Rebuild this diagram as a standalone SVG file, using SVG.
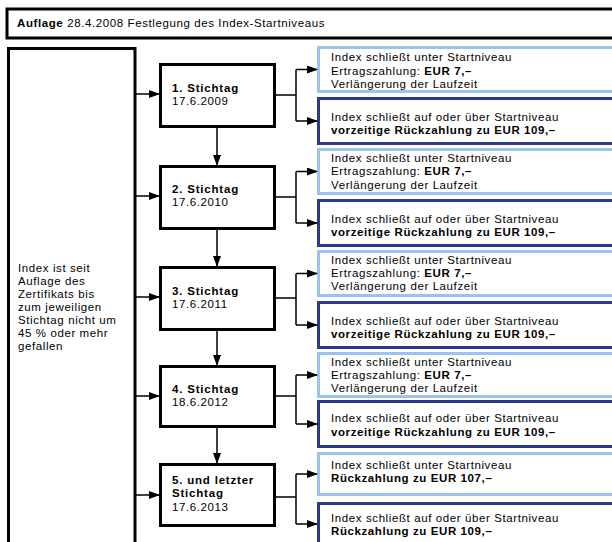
<svg xmlns="http://www.w3.org/2000/svg" width="612" height="542" viewBox="0 0 612 542">
<defs>
<marker id="ah" markerWidth="11" markerHeight="8" refX="10" refY="4" orient="auto" markerUnits="userSpaceOnUse">
<path d="M0,0 L11,4 L0,8 Z" fill="#000"/>
</marker>
<style>
text{font-family:"Liberation Sans",Arial,sans-serif;font-size:11.5px;letter-spacing:0.6px;fill:#000}
.b{font-weight:bold}
.s{letter-spacing:0.8px}
.box{fill:#fff;stroke:#000;stroke-width:3}
.lt{fill:#fff;stroke:#9cc3ee;stroke-width:3}
.dk{fill:#fff;stroke:#2d3a8c;stroke-width:3}
.c{fill:none;stroke:#000;stroke-width:1.5}
</style>
</defs>
<rect width="612" height="542" fill="#fff"/>
<g id="header">
<rect class="box" x="7" y="9" width="640" height="29"/>
<text x="17" y="27"><tspan class="b">Auflage</tspan> 28.4.2008 Festlegung des Index-Startniveaus</text>
</g>
<g id="condition">
<rect class="box" x="8.5" y="48.5" width="126.5" height="520"/>
<text x="18" y="272">Index ist seit</text>
<text x="18" y="285">Auflage des</text>
<text x="18" y="298">Zertifikats bis</text>
<text x="18" y="311">zum jeweiligen</text>
<text x="18" y="324">Stichtag nicht um</text>
<text x="18" y="337">45 % oder mehr</text>
<text x="18" y="350">gefallen</text>
</g>
<g id="stichtag1">
<rect class="box" x="160.5" y="64.5" width="114" height="62"/>
<text class="b s" x="172" y="92">1. Stichtag</text>
<text x="172" y="105">17.6.2009</text>
</g>
<g id="stichtag2">
<rect class="box" x="160.5" y="166.5" width="114" height="62"/>
<text class="b s" x="172" y="193">2. Stichtag</text>
<text x="172" y="206">17.6.2010</text>
</g>
<g id="stichtag3">
<rect class="box" x="160.5" y="267.5" width="114" height="62"/>
<text class="b s" x="172" y="295">3. Stichtag</text>
<text x="172" y="308">17.6.2011</text>
</g>
<g id="stichtag4">
<rect class="box" x="160.5" y="366.5" width="114" height="60"/>
<text class="b s" x="172" y="393">4. Stichtag</text>
<text x="172" y="406">18.6.2012</text>
</g>
<g id="stichtag5">
<rect class="box" x="160.5" y="464.5" width="114" height="61"/>
<text class="b s" x="172" y="484">5. und letzter</text>
<text class="b s" x="172" y="497">Stichtag</text>
<text x="172" y="511">17.6.2013</text>
</g>
<g id="r1a">
<rect class="lt" x="318.5" y="47.5" width="320" height="44"/>
<text x="331" y="61">Index schließt unter Startniveau</text>
<text x="331" y="75">Ertragszahlung: <tspan class="b">EUR 7,–</tspan></text>
<text x="331" y="88">Verlängerung der Laufzeit</text>
</g>
<g id="r1b">
<rect class="dk" x="318.5" y="98.5" width="320" height="45"/>
<text x="331" y="121">Index schließt auf oder über Startniveau</text>
<text class="b" x="331" y="134">vorzeitige Rückzahlung zu EUR 109,–</text>
</g>
<g id="r2a">
<rect class="lt" x="318.5" y="149.5" width="320" height="44"/>
<text x="331" y="162">Index schließt unter Startniveau</text>
<text x="331" y="175">Ertragszahlung: <tspan class="b">EUR 7,–</tspan></text>
<text x="331" y="189">Verlängerung der Laufzeit</text>
</g>
<g id="r2b">
<rect class="dk" x="318.5" y="200.5" width="320" height="45"/>
<text x="331" y="223">Index schließt auf oder über Startniveau</text>
<text class="b" x="331" y="236">vorzeitige Rückzahlung zu EUR 109,–</text>
</g>
<g id="r3a">
<rect class="lt" x="318.5" y="251.5" width="320" height="44"/>
<text x="331" y="264">Index schließt unter Startniveau</text>
<text x="331" y="277">Ertragszahlung: <tspan class="b">EUR 7,–</tspan></text>
<text x="331" y="290">Verlängerung der Laufzeit</text>
</g>
<g id="r3b">
<rect class="dk" x="318.5" y="302.5" width="320" height="45"/>
<text x="331" y="325">Index schließt auf oder über Startniveau</text>
<text class="b" x="331" y="338">vorzeitige Rückzahlung zu EUR 109,–</text>
</g>
<g id="r4a">
<rect class="lt" x="318.5" y="353.5" width="320" height="43"/>
<text x="331" y="366">Index schließt unter Startniveau</text>
<text x="331" y="379">Ertragszahlung: <tspan class="b">EUR 7,–</tspan></text>
<text x="331" y="392">Verlängerung der Laufzeit</text>
</g>
<g id="r4b">
<rect class="dk" x="318.5" y="401.5" width="320" height="45"/>
<text x="331" y="422">Index schließt auf oder über Startniveau</text>
<text class="b" x="331" y="436">vorzeitige Rückzahlung zu EUR 109,–</text>
</g>
<g id="r5a">
<rect class="lt" x="318.5" y="453.5" width="320" height="41"/>
<text x="331" y="469">Index schließt unter Startniveau</text>
<text class="b" x="331" y="482">Rückzahlung zu EUR 107,–</text>
</g>
<g id="r5b">
<rect class="dk" x="318.5" y="503.5" width="320" height="45"/>
<text x="331" y="522">Index schließt auf oder über Startniveau</text>
<text class="b" x="331" y="535">Rückzahlung zu EUR 109,–</text>
</g>
<g id="connectors">
<line class="c" x1="136" y1="94" x2="159" y2="94" marker-end="url(#ah)"/>
<line class="c" x1="136" y1="196" x2="159" y2="196" marker-end="url(#ah)"/>
<line class="c" x1="136" y1="297" x2="159" y2="297" marker-end="url(#ah)"/>
<line class="c" x1="136" y1="396" x2="159" y2="396" marker-end="url(#ah)"/>
<line class="c" x1="136" y1="495" x2="159" y2="495" marker-end="url(#ah)"/>
<line class="c" x1="217" y1="127" x2="217" y2="165" marker-end="url(#ah)"/>
<line class="c" x1="217" y1="229" x2="217" y2="266" marker-end="url(#ah)"/>
<line class="c" x1="217" y1="330" x2="217" y2="365" marker-end="url(#ah)"/>
<line class="c" x1="217" y1="427" x2="217" y2="463" marker-end="url(#ah)"/>
<path class="c" d="M275,95 H296 M296,69.5 V121"/>
<line class="c" x1="296" y1="69.5" x2="317" y2="69.5" marker-end="url(#ah)"/>
<line class="c" x1="296" y1="121" x2="317" y2="121" marker-end="url(#ah)"/>
<path class="c" d="M275,197 H296 M296,171.5 V223"/>
<line class="c" x1="296" y1="171.5" x2="317" y2="171.5" marker-end="url(#ah)"/>
<line class="c" x1="296" y1="223" x2="317" y2="223" marker-end="url(#ah)"/>
<path class="c" d="M275,298 H296 M296,273.5 V325"/>
<line class="c" x1="296" y1="273.5" x2="317" y2="273.5" marker-end="url(#ah)"/>
<line class="c" x1="296" y1="325" x2="317" y2="325" marker-end="url(#ah)"/>
<path class="c" d="M275,396 H296 M296,375 V424"/>
<line class="c" x1="296" y1="375" x2="317" y2="375" marker-end="url(#ah)"/>
<line class="c" x1="296" y1="424" x2="317" y2="424" marker-end="url(#ah)"/>
<path class="c" d="M275,497 H296 M296,474 V524"/>
<line class="c" x1="296" y1="474" x2="317" y2="474" marker-end="url(#ah)"/>
<line class="c" x1="296" y1="524" x2="317" y2="524" marker-end="url(#ah)"/>
</g>
</svg>
